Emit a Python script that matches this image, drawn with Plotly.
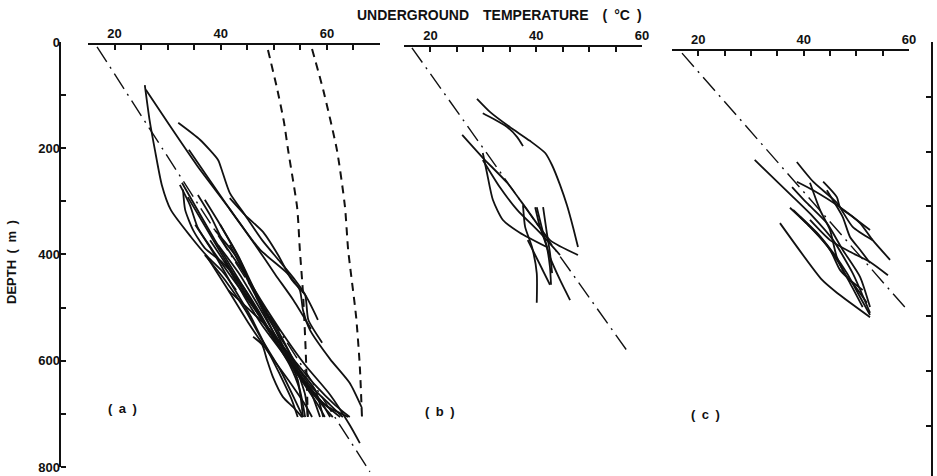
import plotly.graph_objects as go

# ---------------- data: temperature (deg C) vs depth (m) ----------------
# reference gradient lines (dash-dot)
ref_a_T, ref_a_D = [16.7, 68.1], [9, 809]
ref_b_T, ref_b_D = [16.5, 57.3], [11, 583]
ref_c_T, ref_c_D = [16.9, 59.2], [21, 499]

# envelope curves in panel (a) (dashed)
env1_T = [48.9, 50.6, 51.9, 52.7, 54.4, 54.9, 55.5, 56.0, 56.4]
env1_D = [15, 87, 150, 204, 312, 391, 473, 580, 705]
env2_T = [57.2, 59.3, 61.9, 63.4, 64.0, 65.5, 66.2, 66.6]
env2_D = [13, 90, 204, 310, 391, 517, 611, 705]

# borehole temperature logs, panel (a)
logs_a = [
    ([25.7, 26.6, 27.6, 28.9, 30.6, 34.4, 37.6, 40.4, 42.9], [81, 147, 203, 269, 316, 367, 405, 433, 467]),
    ([25.9, 30.3, 35.5, 41.8, 46.5, 50.3, 53.7, 57.0], [90, 156, 232, 316, 382, 438, 486, 540]),
    ([32.0, 36.1, 39.5, 40.2, 41.7, 44.6, 47.8, 51.2, 54.0, 55.9, 56.5, 59.1],
     [152, 184, 222, 241, 284, 326, 373, 414, 448, 476, 523, 566]),
    ([34.0, 41.8, 47.4, 52.5, 54.9, 55.5, 56.8, 60.6, 64.3, 66.6], [203, 316, 391, 435, 467, 505, 542, 597, 642, 689]),
    ([32.7, 38.9, 44.6, 50.2, 54.9, 59.6, 64.0], [265, 373, 467, 561, 627, 683, 706]),
    ([33.8, 38.0, 43.6, 48.9, 54.0, 58.7, 62.5], [292, 363, 457, 542, 617, 674, 706]),
    ([32.3, 34.2, 35.7, 38.4, 41.7, 46.5, 51.2, 54.9, 58.7, 60.6], [269, 307, 350, 391, 438, 504, 570, 627, 674, 706]),
    ([35.7, 38.0, 40.8, 44.6, 47.8, 51.2, 54.0, 55.9, 56.4], [288, 326, 382, 438, 495, 551, 608, 664, 706]),
    ([37.0, 39.9, 43.2, 46.4, 49.3, 52.1, 54.5, 55.5], [297, 344, 401, 467, 523, 580, 636, 706]),
    ([41.4, 48.7, 53.0, 57.8, 61.5, 64.3], [467, 536, 589, 646, 683, 706]),
    ([46.1, 47.8, 48.7, 49.8, 51.7, 53.6, 55.3], [555, 570, 598, 630, 668, 687, 706]),
    ([38.9, 42.7, 45.5, 48.9, 52.1, 54.9, 57.8, 59.3], [354, 401, 457, 519, 570, 617, 655, 706]),
    ([39.9, 43.6, 47.0, 50.2, 53.4, 56.8, 60.6, 63.0], [344, 410, 486, 551, 598, 646, 683, 706]),
    ([41.7, 46.4, 51.2, 55.9, 60.6, 64.3, 66.2], [382, 467, 542, 608, 664, 721, 755]),
    ([41.7, 44.6, 48.0, 50.8, 53.4, 55.9, 58.3], [294, 326, 358, 401, 448, 476, 523]),
    ([32.9, 33.3, 34.8, 37.0, 40.2, 43.6, 47.0, 50.2, 53.0, 54.9, 55.9],
     [278, 316, 354, 388, 414, 452, 504, 561, 608, 655, 706]),
    ([37.0, 40.8, 44.6, 47.8, 51.2, 54.0, 55.5], [401, 448, 504, 561, 617, 674, 706]),
    ([35.2, 38.9, 42.1, 45.5, 48.3, 51.2, 53.4, 54.5], [344, 401, 457, 514, 570, 627, 674, 706]),
    ([38.0, 41.4, 44.6, 47.8, 51.5, 54.9, 58.3, 61.1], [373, 425, 482, 533, 583, 632, 674, 706]),
    ([39.5, 43.6, 47.0, 50.2, 53.4, 56.8, 58.7], [382, 438, 495, 551, 602, 655, 706]),
    ([40.8, 44.2, 47.8, 51.5, 54.9, 58.3, 59.6], [414, 467, 523, 580, 632, 683, 706]),
    ([37.6, 41.4, 45.1, 48.9, 52.7, 55.9, 57.2], [407, 467, 527, 583, 636, 683, 706]),
]

# borehole temperature logs, panel (b)
logs_b = [
    ([28.8, 31.3, 35.0, 38.8, 41.7, 43.0, 44.5, 45.8, 47.0, 47.9], [107, 132, 160, 186, 209, 232, 269, 307, 350, 386]),
    ([29.9, 31.6, 34.5, 36.4, 37.5], [134, 143, 160, 179, 196]),
    ([26.0, 29.9, 34.5, 38.3, 42.6, 47.9], [175, 218, 265, 316, 373, 401]),
    ([29.9, 30.7, 31.8, 33.7, 36.9, 42.0], [209, 247, 297, 335, 359, 386]),
    ([29.9, 33.1, 36.4, 40.7, 44.5], [222, 273, 316, 359, 401]),
    ([37.5, 37.9, 39.2, 40.1, 40.1], [307, 348, 386, 435, 491]),
    ([39.8, 40.7, 42.0, 42.6, 42.8], [311, 348, 386, 424, 457]),
    ([40.1, 41.3, 42.6, 44.5, 46.4], [311, 359, 405, 448, 486]),
    ([41.3, 42.0, 42.6, 43.0], [311, 359, 397, 435]),
    ([38.4, 42.6], [373, 457]),
]

# borehole temperature logs, panel (c)
logs_c = [
    ([35.5, 43.5, 46.3, 52.6], [341, 448, 472, 518]),
    ([30.7, 38.0, 41.8, 45.6, 49.3, 52.6], [222, 292, 329, 373, 435, 510]),
    ([38.7, 41.8, 46.3, 49.3, 53.1], [226, 263, 303, 348, 373]),
    ([43.7, 46.3, 46.9, 49.3, 52.6], [263, 292, 311, 329, 354]),
    ([38.7, 41.8, 46.9, 50.7, 53.1, 56.4], [263, 279, 311, 341, 373, 410]),
    ([41.2, 43.1, 45.0, 46.3, 48.2, 51.2], [265, 316, 354, 405, 442, 467]),
    ([37.8, 40.6, 44.4, 47.4, 50.7, 52.6], [273, 303, 341, 391, 442, 499]),
    ([37.4, 41.2, 45.0, 46.9, 49.3, 52.0], [312, 348, 391, 429, 454, 491]),
    ([38.0, 42.5, 45.6, 48.2, 50.7, 52.6], [316, 359, 397, 435, 480, 514]),
    ([39.3, 43.1, 46.3, 48.8, 51.2], [329, 367, 410, 454, 499]),
    ([44.4, 47.4, 48.8, 50.7, 52.6], [279, 329, 367, 391, 416]),
    ([41.2, 45.0, 48.8, 52.6, 56.0], [335, 373, 395, 414, 439]),
]

depth_ticks = list(range(0, 801, 100))
depth_labels = [str(v) if v % 200 == 0 else "" for v in depth_ticks]

# ---------------- figure ----------------
W, H = 937, 476
INK = "#111111"
FONT = "Liberation Sans"

fig = go.Figure()


def add_line(T, D, xa, dash="solid", width=1.8):
    fig.add_trace(go.Scatter(
        x=T, y=D, xaxis=xa, yaxis="y", mode="lines",
        line=dict(color=INK, width=width, dash=dash, shape="spline", smoothing=0.6),
        hoverinfo="skip", showlegend=False))


dashdot = "18px,6px,2px,6px"

# panel (a)
for T, D in logs_a:
    add_line(T, D, "x")
add_line(env1_T, env1_D, "x", dash="8px,6px", width=2)
add_line(env2_T, env2_D, "x", dash="8px,6px", width=2)
add_line(ref_a_T, ref_a_D, "x", dash=dashdot, width=1.4)

# panel (b)
for T, D in logs_b:
    add_line(T, D, "x2")
add_line(ref_b_T, ref_b_D, "x2", dash=dashdot, width=1.4)

# panel (c)
for T, D in logs_c:
    add_line(T, D, "x3")
add_line(ref_c_T, ref_c_D, "x3", dash=dashdot, width=1.4)

# placeholder trace so the right-hand frame axis is drawn
fig.add_trace(go.Scatter(x=[None], y=[None], xaxis="x3", yaxis="y2",
                         mode="lines", showlegend=False, hoverinfo="skip"))

tickfont = dict(family=FONT, size=13, color=INK, weight="bold")


def temp_axis(x0, x1, tmax, ypx):
    vals = list(range(15, tmax + 1, 5))
    return dict(
        domain=[x0 / W, x1 / W], range=[15, tmax], anchor="free",
        position=1 - ypx / H, side="top", automargin=False,
        showline=True, linecolor=INK, linewidth=1.6,
        ticks="inside", ticklen=5, tickwidth=1.6, tickcolor=INK,
        tickvals=vals, ticktext=[str(v) if v in (20, 40, 60) else "" for v in vals],
        tickfont=tickfont, showgrid=False, zeroline=False, fixedrange=True)


fig.update_layout(
    width=W, height=H,
    margin=dict(l=0, r=0, t=0, b=0, pad=0),
    paper_bgcolor="white", plot_bgcolor="rgba(0,0,0,0)",
    showlegend=False,
    xaxis=temp_axis(88, 380, 70, 44),
    xaxis2=temp_axis(404, 642, 60, 46),
    xaxis3=temp_axis(672, 909, 60, 50),
    yaxis=dict(
        domain=[0, 1 - 42 / H], range=[817, 0], anchor="free", position=60 / W,
        side="left", showline=False, automargin=False,
        ticks="inside", ticklen=5, tickwidth=1.6, tickcolor=INK,
        tickvals=depth_ticks, ticktext=depth_labels, tickfont=tickfont,
        showgrid=False, zeroline=False, fixedrange=True),
    yaxis2=dict(
        domain=[0, 1 - 55 / H], range=[792.2, -0.3], anchor="free", position=932 / W,
        overlaying="y", side="right", showline=True, linecolor=INK, linewidth=2,
        automargin=False,
        ticks="inside", ticklen=5, tickwidth=1.6, tickcolor=INK,
        tickvals=list(range(100, 701, 100)), showticklabels=False,
        showgrid=False, zeroline=False, fixedrange=True),
)

# left depth axis spine (0-800 m)
fig.add_shape(type="line", xref="paper", yref="y", x0=60 / W, x1=60 / W, y0=0, y1=800,
              line=dict(color=INK, width=2))

# titles and panel labels
label_font = dict(family=FONT, size=13, color=INK, weight="bold")
fig.add_annotation(text="UNDERGROUND\u2003TEMPERATURE\u2003(\u2002°C\u2002)",
                   xref="paper", yref="paper", x=500 / W, y=1 - 15 / H,
                   xanchor="center", yanchor="middle", showarrow=False,
                   font=dict(family=FONT, size=14, color=INK, weight="bold"))
fig.add_annotation(text="DEPTH\u2002(\u2002m\u2002)", textangle=-90,
                   xref="paper", yref="paper", x=11 / W, y=1 - 262 / H,
                   xanchor="center", yanchor="middle", showarrow=False, font=label_font)
for lab, xc, yc in (("a", 122, 408), ("b", 440, 411), ("c", 705, 414)):
    fig.add_annotation(text=f"(\u2002{lab}\u2002)", xref="paper", yref="paper",
                       x=xc / W, y=1 - yc / H, xanchor="center", yanchor="middle",
                       showarrow=False, font=label_font)

fig.write_html("out.html")
